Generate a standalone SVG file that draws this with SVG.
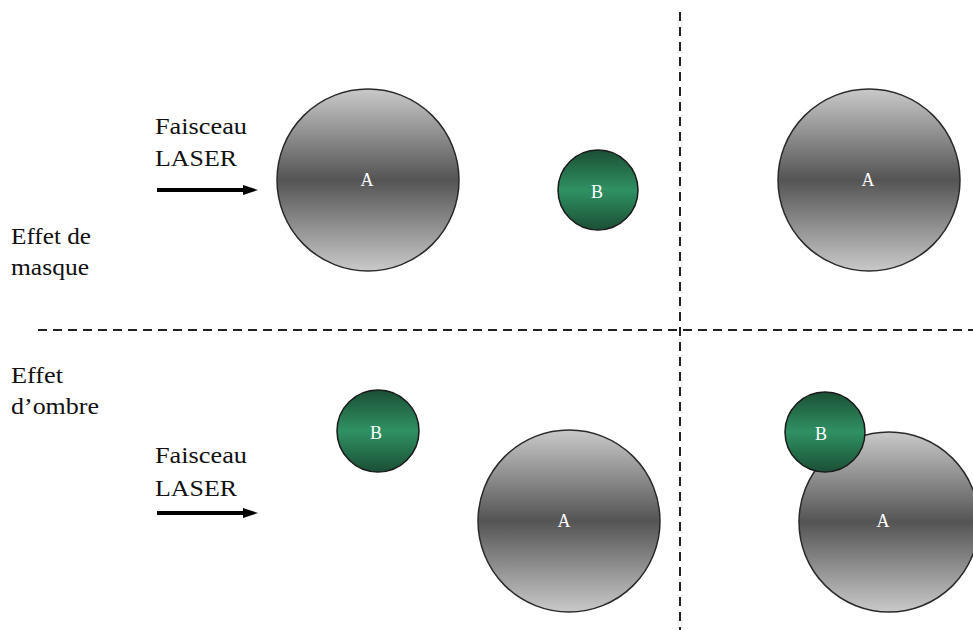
<svg xmlns="http://www.w3.org/2000/svg" width="973" height="630" viewBox="0 0 973 630">
<defs>
<linearGradient id="gA" x1="0" y1="0" x2="0" y2="1">
<stop offset="0" stop-color="#c9c9c9"/>
<stop offset="0.5" stop-color="#545454"/>
<stop offset="1" stop-color="#c9c9c9"/>
</linearGradient>
<linearGradient id="gB" x1="0" y1="0" x2="0" y2="1">
<stop offset="0" stop-color="#1b4f35"/>
<stop offset="0.5" stop-color="#2f9163"/>
<stop offset="1" stop-color="#1b4f35"/>
</linearGradient>
</defs>
<style>
.a{fill:url(#gA);stroke:#2a2a2a;stroke-width:1.5}
.b{fill:url(#gB);stroke:#1a1a1a;stroke-width:1.5}
.t{font-family:"Liberation Serif","DejaVu Serif",serif;font-size:23px;fill:#111}
.lbl{font-family:"Liberation Serif",serif;font-size:18px;fill:#ffffff;text-anchor:middle}
.dash{stroke:#222;stroke-width:2;stroke-dasharray:9 6;fill:none}
.arr{stroke:#000;stroke-width:4}
</style>
<g id="connectors">
<line class="dash" x1="680" y1="12" x2="680" y2="630"/>
<line class="dash" x1="38" y1="330" x2="973" y2="330"/>
<g id="arrow1"><line class="arr" x1="157" y1="190" x2="246" y2="190"/><polygon points="243,185 258,190 243,195" fill="#000"/></g>
<g id="arrow2"><line class="arr" x1="157" y1="513" x2="246" y2="513"/><polygon points="243,508 258,513 243,518" fill="#000"/></g>
</g>
<g id="labels">
<text class="t" x="155" y="134" textLength="92" lengthAdjust="spacingAndGlyphs">Faisceau</text>
<text class="t" x="155" y="166" textLength="82" lengthAdjust="spacingAndGlyphs">LASER</text>
<text class="t" x="155" y="463" textLength="92" lengthAdjust="spacingAndGlyphs">Faisceau</text>
<text class="t" x="155" y="496" textLength="82" lengthAdjust="spacingAndGlyphs">LASER</text>
<text class="t" x="11" y="244" textLength="80" lengthAdjust="spacingAndGlyphs">Effet de</text>
<text class="t" x="11" y="275" textLength="78" lengthAdjust="spacingAndGlyphs">masque</text>
<text class="t" x="11" y="383" textLength="52" lengthAdjust="spacingAndGlyphs">Effet</text>
<text class="t" x="11" y="414" textLength="88" lengthAdjust="spacingAndGlyphs">d’ombre</text>
</g>
<g id="A1"><circle class="a" cx="368" cy="180" r="91"/><text class="lbl" x="367" y="186">A</text></g>
<g id="B1"><circle class="b" cx="598" cy="190" r="40"/><text class="lbl" x="597" y="198">B</text></g>
<g id="A2"><circle class="a" cx="869" cy="180" r="91"/><text class="lbl" x="868" y="186">A</text></g>
<g id="B3"><circle class="b" cx="378" cy="431" r="41"/><text class="lbl" x="376" y="439">B</text></g>
<g id="A3"><circle class="a" cx="569" cy="521" r="91"/><text class="lbl" x="564" y="527">A</text></g>
<g id="A4"><circle class="a" cx="889" cy="522" r="90"/><text class="lbl" x="883" y="527">A</text></g>
<g id="B4"><circle class="b" cx="825" cy="432" r="40"/><text class="lbl" x="821" y="440">B</text></g>
</svg>
